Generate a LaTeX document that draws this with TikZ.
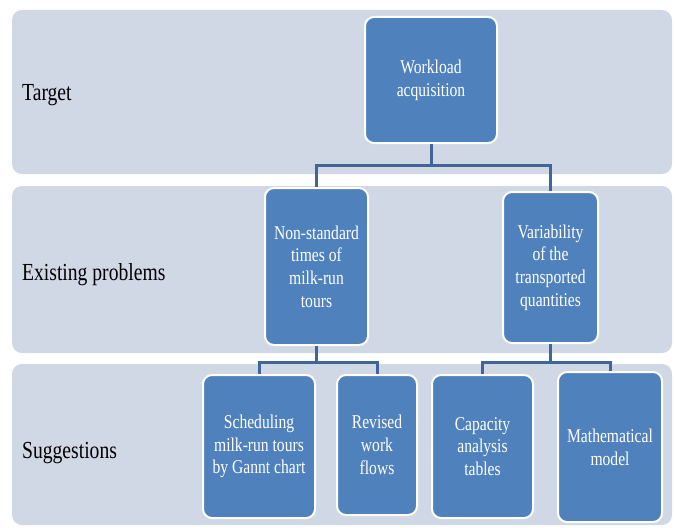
\documentclass[tikz,border=0pt]{standalone}
\usepackage{fontspec}
\setmainfont[FakeStretch=0.8]{Liberation Serif}
\usepackage{tikz}
\definecolor{rowgray}{RGB}{208,216,230}
\definecolor{boxblue}{RGB}{79,129,189}
\definecolor{linkblue}{RGB}{62,102,152}
\tikzstyle{link}=[line width=3pt,color=linkblue]

\begin{document}
\begin{tikzpicture}[x=1pt,y=-1pt]
  \tikzstyle row=[fill=rowgray,rounded corners=10pt];
  \tikzstyle bx=[draw=white,line width=2pt,fill=boxblue,rounded corners=9pt,text=white,align=center,inner sep=1pt,font=\fontsize{19.5}{22.7}\selectfont];
  \tikzstyle lbl=[anchor=base west,inner sep=0pt,font=\fontsize{24.5}{28}\selectfont];

  \useasboundingbox (0,0) rectangle (676,527);

  % rows
  \fill[row] (12,10) rectangle (672,174);
  \fill[row] (12,186) rectangle (672,353);
  \fill[row] (12,364) rectangle (672,525);

  % row titles
  \node[lbl] (tgt) at (22,100) {Target};
  \node[lbl] (prb) at (22,280) {Existing problems};
  \node[lbl] (sug) at (22,458) {Suggestions};

  % boxes
  \node[bx,minimum width=132pt,minimum height=126pt] (wl) at (431,80) {Workload\\acquisition};
  \node[bx,minimum width=103pt,minimum height=157pt] (ns) at (316.5,266.5) {Non-standard\\times of\\milk-run\\tours};
  \node[bx,minimum width=95pt,minimum height=151pt] (vq) at (550.5,267.5) {Variability\\of the\\transported\\quantities};
  \node[bx,minimum width=112pt,minimum height=143pt] (gc) at (259,446.5) {Scheduling\\milk-run tours\\by Gannt chart};
  \node[bx,minimum width=80pt,minimum height=140pt] (rw) at (377,445) {Revised\\work\\flows};
  \node[bx,minimum width=101pt,minimum height=143pt] (ca) at (482.5,446.5) {Capacity\\analysis\\tables};
  \node[bx,minimum width=104pt,minimum height=150pt] (mm) at (610,447) {Mathematical\\model};

  % links
  \coordinate (bus1) at (431,165);
  \coordinate (bus2) at (316.5,362);
  \coordinate (bus3) at (550.5,362);
  \draw[link] (wl.south) -- (wl.south |- bus1) -| (ns.north);
  \draw[link] (wl.south |- bus1) -| (vq.north);
  \draw[link] (ns.south) -- (bus2) -| (gc.north);
  \draw[link] (bus2) -| (rw.north);
  \draw[link] (vq.south) -- (bus3) -| (ca.north);
  \draw[link] (bus3) -| (mm.north);
\end{tikzpicture}
\end{document}
